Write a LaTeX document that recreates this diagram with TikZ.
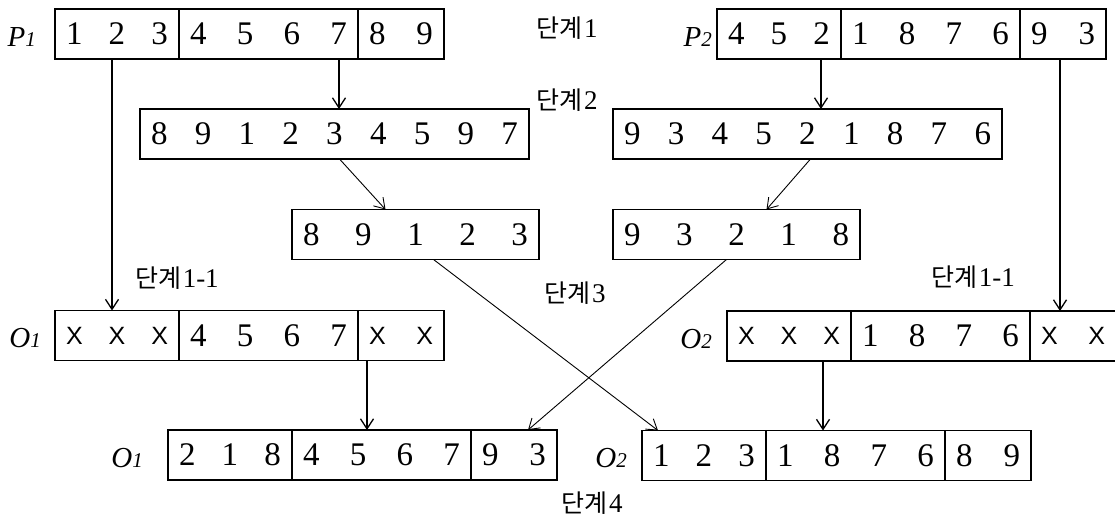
\documentclass[tikz,border=0pt]{standalone}
\usepackage{fontspec}
\setmainfont{Liberation Serif}
\newfontfamily\krfont{Noto Sans CJK KR}
\newfontfamily\xfont{Liberation Sans}
\usetikzlibrary{arrows.meta, positioning}

\newcommand{\spread}[2]{\hbox to #1{#2}}
\newcommand{\xx}{{\xfont\fontsize{25}{25}\selectfont X}}
\newcommand{\dan}[1]{{\krfont\fontsize{25}{25}\selectfont 단계}\kern1.5pt #1}
\newcommand{\lbl}[2]{#1{\fontsize{21}{21}\selectfont #2}}

\begin{document}
\begin{tikzpicture}[
    x=1pt, y=-1pt,
    node distance=0pt,
    cell/.style={draw, line width=1.5pt, minimum height=50pt, inner xsep=11pt, inner ysep=0pt, outer sep=0pt, font=\fontsize{33}{33}\selectfont},
    tag/.style={inner sep=0pt, yshift=-3pt, font=\itshape\fontsize{29}{29}\selectfont},
    stepname/.style={inner sep=0pt, font=\fontsize{27}{27}\selectfont},
    arr/.style={-{Straight Barb[length=10pt, width=13pt]}, line width=1.3pt},
    darr/.style={-{Straight Barb[length=10pt, width=13pt]}, line width=0.9pt},
]
\useasboundingbox (0,0) rectangle (1115,526);

% parents
\node[cell, anchor=west] (p1a) at (55,34) {\spread{102pt}{1\hfill 2\hfill 3}};
\node[cell, right=of p1a] (p1b) {\spread{157pt}{4\hfill 5\hfill 6\hfill 7}};
\node[cell, right=of p1b] (p1c) {\spread{64pt}{8\hfill 9}};
\node[cell, anchor=west] (p2a) at (717,34) {\spread{102pt}{4\hfill 5\hfill 2}};
\node[cell, right=of p2a] (p2b) {\spread{157pt}{1\hfill 8\hfill 7\hfill 6}};
\node[cell, right=of p2b] (p2c) {\spread{64pt}{9\hfill 3}};
\node[tag, left=19pt of p1a] (p1name) {\lbl{P}{1}};
\node[tag, left=5pt of p2a] (p2name) {\lbl{P}{2}};

% rotated strings
\node[cell, anchor=west] (s2l) at (140,134) {\spread{367pt}{8\hfill 9\hfill 1\hfill 2\hfill 3\hfill 4\hfill 5\hfill 9\hfill 7}};
\node[cell, anchor=west] (s2r) at (613,134) {\spread{367pt}{9\hfill 3\hfill 4\hfill 5\hfill 2\hfill 1\hfill 8\hfill 7\hfill 6}};
\node[cell, anchor=west] (s3l) at (292,234.5) {\spread{225pt}{8\hfill 9\hfill 1\hfill 2\hfill 3}};
\node[cell, anchor=west] (s3r) at (613,234.5) {\spread{225pt}{9\hfill 3\hfill 2\hfill 1\hfill 8}};

% children with gaps
\node[cell, anchor=west] (o1a) at (55,335.5) {\spread{102pt}{\xx\hfill\xx\hfill\xx}};
\node[cell, right=of o1a] (o1b) {\spread{157pt}{4\hfill 5\hfill 6\hfill 7}};
\node[cell, right=of o1b] (o1c) {\spread{64pt}{\xx\hfill\xx}};
\node[cell, anchor=west] (o2a) at (727,336) {\spread{102pt}{\xx\hfill\xx\hfill\xx}};
\node[cell, right=of o2a] (o2b) {\spread{157pt}{1\hfill 8\hfill 7\hfill 6}};
\node[cell, right=of o2b] (o2c) {\spread{64pt}{\xx\hfill\xx}};
\node[tag, left=14pt of o1a] (o1name) {\lbl{O}{1}};
\node[tag, left=15pt of o2a] (o2name) {\lbl{O}{2}};

% children filled
\node[cell, anchor=west] (q1a) at (168,455) {\spread{102pt}{2\hfill 1\hfill 8}};
\node[cell, right=of q1a] (q1b) {\spread{157pt}{4\hfill 5\hfill 6\hfill 7}};
\node[cell, right=of q1b] (q1c) {\spread{64pt}{9\hfill 3}};
\node[cell, anchor=west] (q2a) at (642,455.5) {\spread{102pt}{1\hfill 2\hfill 3}};
\node[cell, right=of q2a] (q2b) {\spread{157pt}{1\hfill 8\hfill 7\hfill 6}};
\node[cell, right=of q2b] (q2c) {\spread{64pt}{8\hfill 9}};
\node[tag, left=25pt of q1a] (q1name) {\lbl{O}{1}};
\node[tag, left=15pt of q2a] (q2name) {\lbl{O}{2}};

% step names
\node[stepname] (st1) at (567,28) {\dan{1}};
\node[stepname] (st2) at (567,100) {\dan{2}};
\node[stepname] (st3) at (575,293) {\dan{3}};
\node[stepname] (st11l) at (177,278) {\dan{1-1}};
\node[stepname] (st11r) at (973,277) {\dan{1-1}};
\node[stepname] (st4) at (592,503) {\dan{4}};

% arrows
\coordinate (a1) at ([xshift=-19pt]p1b.south east);
\draw[arr] (a1) -- (a1 |- s2l.north);
\coordinate (a2) at ([xshift=-5pt]p1a.south);
\draw[arr] (a2) -- (a2 |- o1a.north);
\coordinate (a3) at ([xshift=-20pt]p2a.south east);
\draw[arr] (a3) -- (a3 |- s2r.north);
\coordinate (a4) at ([xshift=-3pt]p2c.south);
\draw[arr] (a4) -- (a4 |- o2c.north);
\draw[darr] ([xshift=5pt]s2l.south) -- ([xshift=-30pt]s3l.north);
\draw[darr] ([xshift=3pt]s2r.south) -- ([xshift=30pt]s3r.north);
\draw[darr] ([xshift=18pt]s3l.south) -- ([xshift=16pt]q2a.north west);
\draw[darr] ([xshift=-10pt]s3r.south) -- ([xshift=-29pt]q1c.north east);
\coordinate (a5) at ([xshift=9pt]o1c.south west);
\draw[arr] (a5) -- (a5 |- q1b.north);
\coordinate (a6) at ([xshift=-28pt]o2a.south east);
\draw[arr] (a6) -- (a6 |- q2b.north);
\end{tikzpicture}
\end{document}
